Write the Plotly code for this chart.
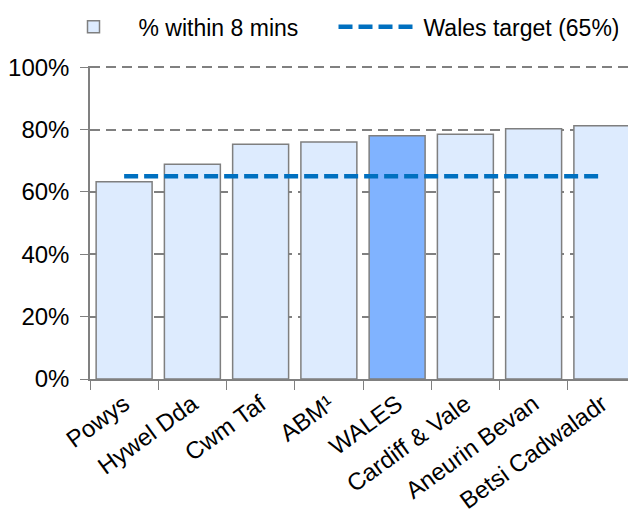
import plotly.graph_objects as go

categories = ["Powys", "Hywel Dda", "Cwm Taf", "ABM¹", "WALES", "Cardiff & Vale", "Aneurin Bevan", "Betsi Cadwaladr"]
pct_within_8 = [63.3, 68.9, 75.3, 76.0, 78.0, 78.5, 80.3, 81.2]
target = [65] * len(categories)
y_ticks = [0, 20, 40, 60, 80, 100]
y_tick_labels = ["0%", "20%", "40%", "60%", "80%", "100%"]

bar_colors = ["#80B3FF" if c == "WALES" else "#DDEBFE" for c in categories]

fig = go.Figure()
fig.add_trace(go.Bar(
    x=categories, y=pct_within_8, name="% within 8 mins",
    marker=dict(color=bar_colors, line=dict(color="#7F7F7F", width=1.5)),
    width=0.82,
))
fig.add_trace(go.Scatter(
    x=categories, y=target, name="Wales target (65%)", mode="lines",
    line=dict(color="#0070C0", width=4.5, dash="14px,6px"),
    cliponaxis=False,
))

fig.update_layout(
    width=636, height=515,
    margin=dict(l=82, r=8, t=58, b=144, autoexpand=False),
    plot_bgcolor="white", paper_bgcolor="white",
    font=dict(family="Liberation Sans, Arial, sans-serif", size=24, color="#000000"),
    showlegend=True,
    legend=dict(orientation="h", x=-0.076, xanchor="left", y=1.125, yanchor="middle",
                font=dict(size=23), itemwidth=80, entrywidth=190, traceorder="normal",
                bgcolor="rgba(0,0,0,0)"),
    bargap=0.18,
)
fig.update_yaxes(
    range=[0, 100.4], tickvals=y_ticks, ticktext=y_tick_labels,
    showgrid=True, gridcolor="#808080", griddash="10px,6px", gridwidth=1.5,
    showline=True, linecolor="#808080", linewidth=1.5,
    ticks="outside", ticklen=8, tickcolor="#808080", zeroline=False,
    tickfont=dict(size=24), ticklabelstandoff=6, automargin=False,
)
fig.update_xaxes(
    range=[-0.5, 7.5], showline=True, linecolor="#808080", linewidth=1.5,
    ticks="outside", tickson="boundaries", ticklen=9, tickcolor="#808080",
    tickangle=-36, tickfont=dict(size=24), automargin=False,
)

fig.write_html("out.html")
